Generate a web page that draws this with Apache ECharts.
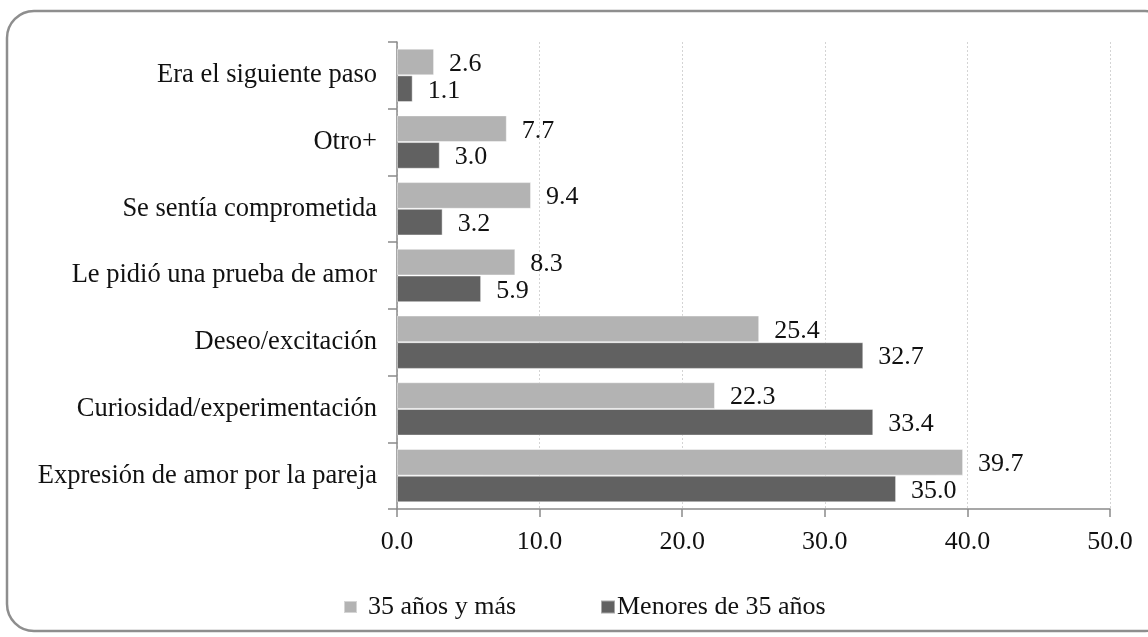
<!DOCTYPE html>
<html>
<head>
<meta charset="utf-8">
<script src="https://cdn.jsdelivr.net/npm/echarts@6/dist/echarts.min.js"></script>
<style>
  html, body { margin: 0; padding: 0; background: #fff; }
  #chart { width: 1148px; height: 637px; }
</style>
</head>
<body>
<div id="chart"></div>
<script>
// Motivos de la primera relación sexual, por grupo de edad (%)
const categories = [
  'Expresión de amor por la pareja',
  'Curiosidad/experimentación',
  'Deseo/excitación',
  'Le pidió una prueba de amor',
  'Se sentía comprometida',
  'Otro+',
  'Era el siguiente paso'
];
const seriesNames = ['35 años y más', 'Menores de 35 años'];
const mayores35 = [39.7, 22.3, 25.4, 8.3, 9.4, 7.7, 2.6];
const menores35 = [35.0, 33.4, 32.7, 5.9, 3.2, 3.0, 1.1];
const xTicks = [0, 10, 20, 30, 40, 50];

const FONT = '"Liberation Serif", "Times New Roman", serif';
const LIGHT = '#b3b3b3';
const DARK = '#616161';

const chart = echarts.init(document.getElementById('chart'));

function barSeries(name, data, color) {
  return {
    name: name,
    type: 'bar',
    data: data,
    barGap: '0%',
    barCategoryGap: '20%',
    itemStyle: { color: color, borderColor: 'rgba(255,255,255,0.45)', borderWidth: 1 },
    label: {
      show: true,
      position: 'right',
      distance: 15,
      offset: [0, 2],
      formatter: p => p.value.toFixed(1),
      fontFamily: FONT,
      fontSize: 26,
      color: '#111'
    }
  };
}

chart.setOption({
  animation: false,
  backgroundColor: '#fff',
  graphic: [{
    type: 'rect',
    shape: { x: 7, y: 11, width: 1165, height: 620, r: 27 },
    style: { fill: 'none', stroke: '#8e8e8e', lineWidth: 2.5 },
    z: -1
  }],
  grid: { left: 397, right: 38, top: 42, bottom: 128, containLabel: false },
  xAxis: {
    type: 'value',
    min: xTicks[0],
    max: xTicks[xTicks.length - 1],
    interval: xTicks[1] - xTicks[0],
    axisLine: { show: true, lineStyle: { color: '#8a8a8a', width: 1.5 } },
    axisTick: { show: true, length: 8, lineStyle: { color: '#8a8a8a', width: 1.5 } },
    axisLabel: {
      margin: 20,
      formatter: v => v.toFixed(1),
      fontFamily: FONT,
      fontSize: 26,
      color: '#111'
    },
    splitLine: { show: true, lineStyle: { color: '#d4d4d4', type: [2, 2], width: 1 } }
  },
  yAxis: {
    type: 'category',
    data: categories,
    axisLine: { show: true, lineStyle: { color: '#8a8a8a', width: 1.5 } },
    axisTick: { show: true, length: 9, lineStyle: { color: '#8a8a8a', width: 1.5 } },
    axisLabel: {
      margin: 20,
      fontFamily: FONT,
      fontSize: 26.5,
      color: '#111'
    },
    splitLine: { show: false }
  },
  legend: [{
    data: [seriesNames[0]],
    left: 343,
    top: 594,
    padding: 0,
    icon: 'rect',
    itemWidth: 13,
    itemHeight: 12,
    textStyle: { fontFamily: FONT, fontSize: 26, color: '#111', padding: [0, 0, 0, 6] }
  }, {
    data: [seriesNames[1]],
    left: 600,
    top: 594,
    padding: 0,
    icon: 'rect',
    itemWidth: 14,
    itemHeight: 13,
    itemGap: 0,
    textStyle: { fontFamily: FONT, fontSize: 26, color: '#111', padding: [0, 0, 0, -3] }
  }],
  series: [
    barSeries(seriesNames[0], mayores35, LIGHT),
    barSeries(seriesNames[1], menores35, DARK)
  ]
});
</script>
</body>
</html>
